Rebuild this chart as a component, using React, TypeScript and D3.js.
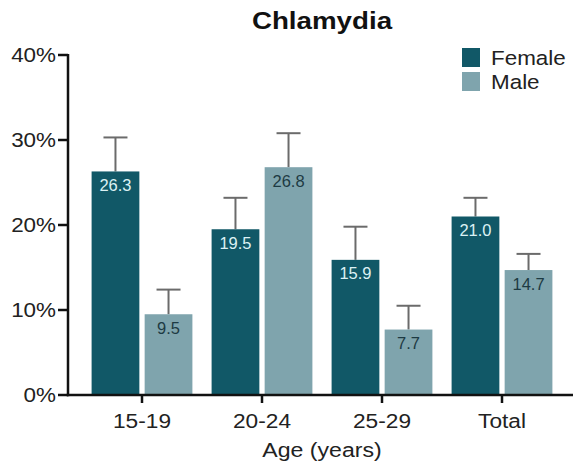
import React from "react";
import * as d3 from "d3";

const categories = ["15-19", "20-24", "25-29", "Total"];
const groups = ["Female", "Male"];
const femaleValues = [26.3, 19.5, 15.9, 21.0];
const maleValues = [9.5, 26.8, 7.7, 14.7];
const femaleUpper = [30.3, 23.2, 19.8, 23.2];
const maleUpper = [12.4, 30.8, 10.5, 16.6];
const yTicks = [0, 10, 20, 30, 40];

const W = 574;
const H = 463;
const FONT = "'Liberation Sans', Arial, Helvetica, sans-serif";
const colors: Record<string, string> = { Female: "#115867", Male: "#7fa4ad" };
const labelColors: Record<string, string> = { Female: "#dcf1f4", Male: "#1d3a43" };

export default function App() {
  const x0 = d3.scaleBand<string>().domain(categories).range([82, 562]).paddingInner(0.16).paddingOuter(0.08);
  const x1 = d3.scaleBand<string>().domain(groups).range([0, x0.bandwidth()]).paddingInner(0.1);
  const y = d3.scaleLinear().domain([0, 40]).range([395, 55]);
  const axisX = 68;

  const series: Record<string, { v: number[]; u: number[] }> = {
    Female: { v: femaleValues, u: femaleUpper },
    Male: { v: maleValues, u: maleUpper },
  };

  return (
    <svg width={W} height={H} style={{ position: "absolute", left: 0, top: 0, background: "#fff" }} fontFamily={FONT}>
      <rect width={W} height={H} fill="#fff" />
      <text transform={`translate(322,29) scale(1.18,1)`} textAnchor="middle" fontWeight="bold" fontSize={23.5} fill="#111">
        Chlamydia
      </text>

      {/* bars */}
      {categories.map((c, i) =>
        groups.map((g) => {
          const bx = (x0(c) as number) + (x1(g) as number);
          const bw = x1.bandwidth();
          const v = series[g].v[i];
          const u = series[g].u[i];
          const cx = bx + bw / 2;
          return (
            <g key={c + g}>
              <line x1={cx} x2={cx} y1={y(u)} y2={y(v)} stroke="#6b6b6b" strokeWidth={2} />
              <line x1={cx - 12} x2={cx + 12} y1={y(u)} y2={y(u)} stroke="#6b6b6b" strokeWidth={2} />
              <rect x={bx} y={y(v)} width={bw} height={y(0) - y(v)} fill={colors[g]} />
              <text x={cx} y={y(v) + 19.5} textAnchor="middle" fontSize={16.5} fill={labelColors[g]}>
                {v.toFixed(1)}
              </text>
            </g>
          );
        })
      )}

      {/* y axis */}
      <line x1={axisX} x2={axisX} y1={y(40) - 1} y2={y(0) + 1.25} stroke="#111" strokeWidth={2.5} />
      {yTicks.map((t) => (
        <g key={t}>
          <line x1={axisX - 10} x2={axisX} y1={y(t)} y2={y(t)} stroke="#111" strokeWidth={2.5} />
          <text transform={`translate(56,${y(t) + 7}) scale(1.15,1)`} textAnchor="end" fontSize={19.5} fill="#222">
            {t}%
          </text>
        </g>
      ))}

      {/* x axis */}
      <line x1={axisX - 1.25} x2={573} y1={y(0)} y2={y(0)} stroke="#111" strokeWidth={2.5} />
      {categories.map((c) => {
        const cx = (x0(c) as number) + x0.bandwidth() / 2;
        return (
          <g key={c}>
            <line x1={cx} x2={cx} y1={y(0)} y2={y(0) + 8} stroke="#111" strokeWidth={2.5} />
            <text transform={`translate(${cx},428) scale(1.08,1)`} textAnchor="middle" fontSize={21} fill="#222">
              {c}
            </text>
          </g>
        );
      })}
      <text transform={`translate(322,457) scale(1.1,1)`} textAnchor="middle" fontSize={21} fill="#222">
        Age (years)
      </text>

      {/* legend */}
      {groups.map((g, i) => (
        <g key={g}>
          <rect x={462} y={48 + i * 24} width={18} height={19} fill={colors[g]} />
          <text transform={`translate(491,${65 + i * 24}) scale(1.15,1)`} fontSize={19.5} fill="#222">
            {g}
          </text>
        </g>
      ))}
    </svg>
  );
}
